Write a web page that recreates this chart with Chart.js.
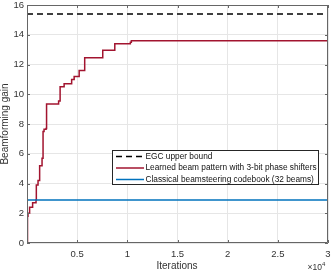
<!DOCTYPE html>
<html>
<head>
<meta charset="utf-8">
<script src="https://cdn.jsdelivr.net/npm/chart.js@4/dist/chart.umd.min.js"></script>
<style>
  html, body { margin: 0; padding: 0; background: #fff; }
</style>
</head>
<body>
<canvas id="chart-gain" width="332" height="275"></canvas>
<script>
// values
const iterations = [0, 50, 100, 260, 560, 900, 930, 1100, 1260, 1500, 1600, 1700, 1900, 1950,
    3150, 3300, 3700, 4450, 4700, 5200, 5750, 7550, 8750, 10300, 10400, 30000];
const learnedGain = [0.05, 1.8, 2.0, 2.4, 2.7, 2.9, 3.9, 4.2, 5.2, 5.7, 7.5, 7.65, 7.7, 9.35,
    9.55, 10.5, 10.7, 11.0, 11.2, 11.6, 12.45, 12.95, 13.4, 13.5, 13.6, 13.6];
const egcBound = 15.4;
const classicalGain = 2.89;
const xTicks = [0, 5000, 10000, 15000, 20000, 25000, 30000];
const yTicks = [0, 2, 4, 6, 8, 10, 12, 14, 16];
const labels = [
    'EGC upper bound',
    'Learned beam pattern with 3-bit phase shifters',
    'Classical beamsteering codebook (32 beams)'
];

const FONT = '"Liberation Sans", Arial, Helvetica, sans-serif';
const TEXT = '#333';
const AXIS = '#666';

const learnedPts = iterations.map((x, i) => ({ x: x, y: learnedGain[i] }));
const egcPts = [{ x: 0, y: egcBound }, { x: 30000, y: egcBound }];
const classicalPts = [{ x: 0, y: classicalGain }, { x: 30000, y: classicalGain }];

const frame = {
    id: 'frame',
    afterDraw: function(chart) {
        const ctx = chart.ctx;
        const a = chart.chartArea;
        const xs = chart.scales.x, ys = chart.scales.y;
        ctx.save();
        ctx.strokeStyle = AXIS;
        ctx.lineWidth = 1;
        ctx.beginPath();
        ctx.rect(Math.round(a.left) + 0.5, Math.round(a.top) + 0.5,
            Math.round(a.right - a.left) - 1, Math.round(a.bottom - a.top) - 1);
        xTicks.forEach(v => {
            const px = Math.round(xs.getPixelForValue(v)) + 0.5;
            ctx.moveTo(px, a.bottom); ctx.lineTo(px, a.bottom - 3);
            ctx.moveTo(px, a.top); ctx.lineTo(px, a.top + 3);
        });
        yTicks.forEach(v => {
            const py = Math.round(ys.getPixelForValue(v)) + 0.5;
            ctx.moveTo(a.left, py); ctx.lineTo(a.left + 3, py);
            ctx.moveTo(a.right, py); ctx.lineTo(a.right - 3, py);
        });
        ctx.stroke();

        // axis titles
        ctx.fillStyle = TEXT;
        ctx.font = '10px ' + FONT;
        ctx.textAlign = 'center';
        ctx.textBaseline = 'middle';
        ctx.fillText('Iterations', 177, 266);
        ctx.save();
        ctx.translate(5, (a.top + a.bottom) / 2);
        ctx.rotate(-Math.PI / 2);
        ctx.fillText('Beamforming gain', 0, 0);
        ctx.restore();
        ctx.font = '8.5px ' + FONT;
        ctx.textAlign = 'right';
        ctx.fillText('\u00d710', 322, 268);
        ctx.font = '6px ' + FONT;
        ctx.textAlign = 'left';
        ctx.fillText('4', 322, 264);

        // legend
        const bx = 112.5, by = 150.5, bw = 206, bh = 34;
        ctx.fillStyle = '#fff';
        ctx.fillRect(bx, by, bw, bh);
        ctx.strokeStyle = '#262626';
        ctx.strokeRect(bx, by, bw, bh);
        ctx.font = '8.3px ' + FONT;
        ctx.textBaseline = 'middle';
        const rows = [156.5, 168, 179.5];
        chart.data.datasets.forEach((ds, i) => {
            ctx.beginPath();
            ctx.strokeStyle = ds.borderColor;
            ctx.lineWidth = ds.borderWidth;
            ctx.setLineDash(ds.borderDash || []);
            ctx.moveTo(116, rows[i]); ctx.lineTo(144, rows[i]);
            ctx.stroke();
            ctx.setLineDash([]);
            ctx.fillStyle = '#111';
            ctx.fillText(ds.label, 145.5, rows[i]);
        });
        ctx.restore();
    }
};

new Chart(document.getElementById('chart-gain'), {
    type: 'line',
    data: {
        datasets: [{
            label: labels[0],
            data: egcPts,
            borderColor: '#000',
            borderWidth: 1.5,
            borderDash: [6, 4],
            pointRadius: 0,
            order: 3
        }, {
            label: labels[1],
            data: learnedPts,
            borderColor: '#A2142F',
            borderWidth: 1.5,
            stepped: true,
            pointRadius: 0,
            order: 2
        }, {
            label: labels[2],
            data: classicalPts,
            borderColor: '#0072BD',
            borderWidth: 1.5,
            pointRadius: 0,
            order: 1
        }]
    },
    options: {
        responsive: false,
        animation: false,
        layout: { padding: { top: 5, right: 4, left: 0, bottom: 0 } },
        plugins: { legend: { display: false }, tooltip: { enabled: false } },
        scales: {
            x: {
                type: 'linear',
                min: 0,
                max: 30000,
                afterBuildTicks: s => { s.ticks = xTicks.map(v => ({ value: v })); },
                afterFit: s => { s.height = 32; s.paddingLeft = 0; s.paddingRight = 0; },
                ticks: {
                    color: TEXT,
                    font: { family: FONT, size: 9.5 },
                    padding: 6,
                    maxRotation: 0,
                    callback: v => v === 0 ? '' : String(v / 10000)
                },
                grid: { color: '#e6e6e6', drawTicks: false },
                border: { display: false }
            },
            y: {
                min: 0,
                max: 16,
                afterBuildTicks: s => { s.ticks = yTicks.map(v => ({ value: v })); },
                afterFit: s => { s.width = 27; s.paddingTop = 0; s.paddingBottom = 0; },
                ticks: {
                    color: TEXT,
                    font: { family: FONT, size: 9.5 },
                    padding: 3
                },
                grid: { color: '#e6e6e6', drawTicks: false },
                border: { display: false }
            }
        }
    },
    plugins: [frame]
});
</script>
</body>
</html>
